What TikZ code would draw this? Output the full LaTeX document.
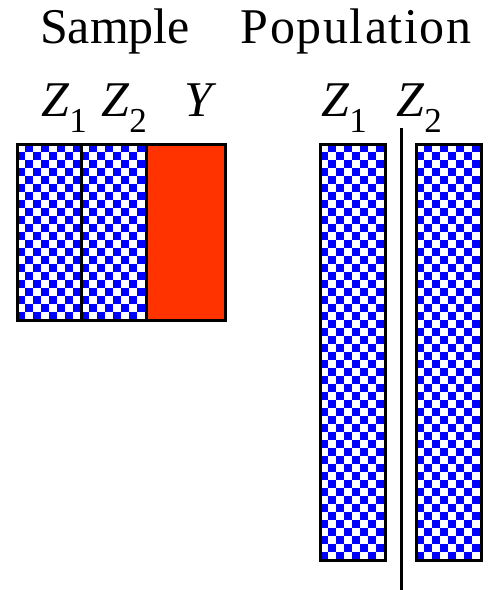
\documentclass[tikz,border=0pt]{standalone}
\usepackage{fontspec}
\setmainfont{Liberation Serif}
\definecolor{chkblue}{RGB}{0,0,255}
\definecolor{yred}{RGB}{255,51,0}
\newcommand\zsub[1]{\raisebox{-16pt}{\fontsize{35}{35}\selectfont #1}}
\newcommand\chkcol[4]{% x1 y1 x2 y2
  \begin{scope}
    \clip (#1,#2) rectangle (#3,#4);
    \fill[chkblue] (#1,#2) rectangle (#3,#4);
    \pgfmathtruncatemacro\chknc{ceil((#3-#1)/8)}
    \pgfmathtruncatemacro\chknr{ceil((#4-#2)/8)}
    \foreach \i in {0,...,\chknc}{
      \foreach \j in {0,...,\chknr}{
        \pgfmathtruncatemacro\chkpar{mod(\i+\j,2)}
        \ifnum\chkpar=0
          \fill[white] ({#1+8*\i},{#2+8*\j}) rectangle ++(8,8);
        \fi
      }
    }
  \end{scope}
}
\tikzset{
  lbl/.style={inner sep=0pt, anchor=base west, font=\fontsize{50}{50}\selectfont},
  title/.style={inner sep=0pt, anchor=base, font=\fontsize{50}{50}\selectfont},
  frame/.style={draw=black, line width=3pt},
}
\begin{document}
\begin{tikzpicture}[x=1pt,y=-1pt]
\useasboundingbox (0,0) rectangle (491,590);
% titles
\node[title] (sample) at (115,43) {Sample};
\node[title, font=\fontsize{50}{50}\selectfont\addfontfeature{LetterSpace=3}] (pop) at (356,43) {Population};
% labels
\node[lbl] (sz1) at (41,116) {\textit{Z}\zsub{1}};
\node[lbl] (sz2) at (101,116) {\textit{Z}\zsub{2}};
\node[lbl] (sy) at (184,116) {\textit{Y}};
\node[lbl] (pz1) at (321,116) {\textit{Z}\zsub{1}};
\node[lbl] (pz2) at (396,116) {\textit{Z}\zsub{2}};
% sample block
\chkcol{17}{144}{81}{320}
\chkcol{81}{144}{146}{320}
\fill[yred] (146,144) rectangle (225,320);
\draw[frame] (17,144) rectangle (225,320);
\draw[frame] (81,144) -- (81,320);
\draw[frame] (146,144) -- (146,320);
% population block
\chkcol{320}{144}{385}{560}
\draw[frame] (320,144) rectangle (385,560);
\chkcol{416}{144}{481}{560}
\draw[frame] (416,144) rectangle (481,560);
% divider
\coordinate (dtop) at (401.5,128);
\coordinate (dbot) at (401.5,590);
\draw[line width=3pt] (dtop) -- (dbot);
\end{tikzpicture}
\end{document}
